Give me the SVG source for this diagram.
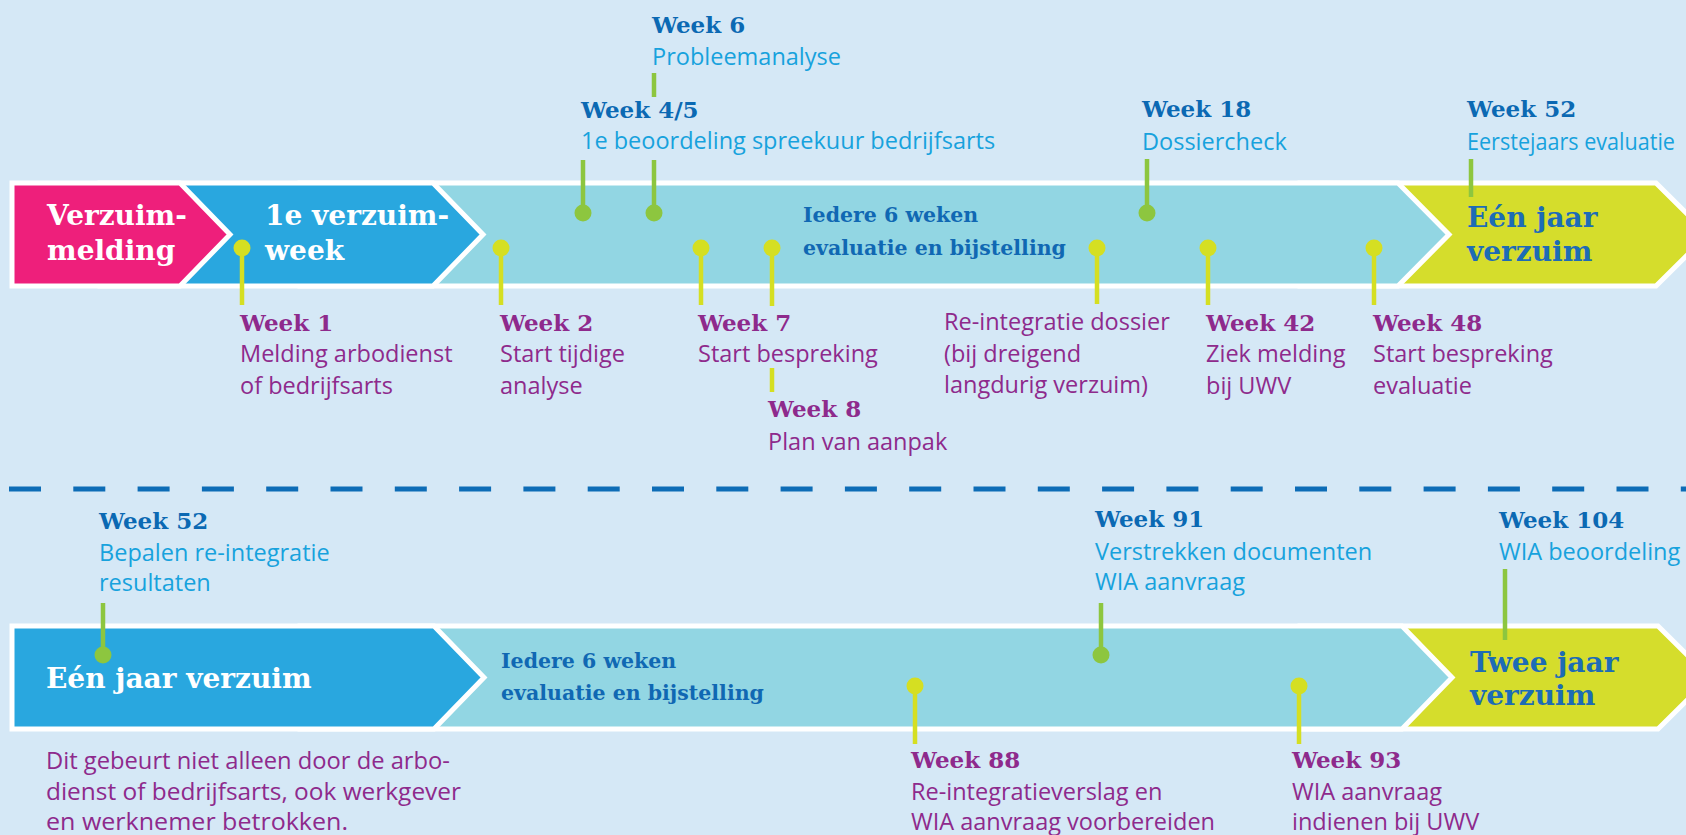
<svg xmlns="http://www.w3.org/2000/svg" width="1686" height="835" viewBox="0 0 1686 835">
<style>
.band{stroke:#fff;stroke-width:5;stroke-linejoin:miter}
.pink{fill:#ee1f7b}.blue{fill:#29a7df}.cyan{fill:#92d6e3}.lime{fill:#d5dd2c}
.big{font-family:"DejaVu Serif",serif;font-weight:bold;font-size:28px}
.wh{fill:#fff}.db{fill:#1d6cb6}
.mid{font-family:"DejaVu Serif",serif;font-weight:bold;font-size:20.5px;fill:#1068b3}
.wk{font-family:"DejaVu Serif",serif;font-weight:bold;font-size:23px}
.wkb{fill:#0b69b3}.wkp{fill:#8e2a8c}
.sub{font-family:"Open Sans",sans-serif;font-size:23.5px}
.note{font-family:"Open Sans",sans-serif;font-size:23.5px;fill:#8e2a8c}
.sb{fill:#17a2dd}.sp{fill:#8e2a8c}
.gs{stroke:#8dc63f;stroke-width:4.5}.gd{fill:#8dc63f}
.ys{stroke:#d5df22;stroke-width:4.5}.yd{fill:#d5df22}
</style>
<rect width="1686" height="835" fill="#d5e8f6"/>

<g id="connectors">
  <line x1="9" y1="489" x2="1686" y2="489" stroke="#0d6cb6" stroke-width="5" stroke-dasharray="32 32.3"/>
</g>

<g id="band-top">
  <polygon class="band lime" points="1300,183 1656,183 1708,234.5 1656,286 1300,286"/>
  <polygon class="band cyan" points="300,183 1398,183 1449,234.5 1398,286 300,286"/>
  <polygon class="band blue" points="100,183 433,183 483,234.5 433,286 100,286"/>
  <polygon class="band pink" points="12,183 180,183 230,234.5 180,286 12,286"/>
</g>
<g id="band-bottom">
  <polygon class="band lime" points="1300,626 1658,626 1710,677.5 1658,729 1300,729"/>
  <polygon class="band cyan" points="300,626 1402,626 1452,677.5 1402,729 300,729"/>
  <polygon class="band blue" points="12,626 434,626 484,677.5 434,729 12,729"/>
</g>

<g id="node-verzuimmelding"><text class="big wh" x="47" y="225">Verzuim-</text><text class="big wh" x="47" y="260">melding</text></g>
<g id="node-verzuimweek"><text class="big wh" x="265" y="225">1e verzuim-</text><text class="big wh" x="265" y="260">week</text></g>
<g id="node-iedere-top"><text class="mid" x="803" y="222">Iedere 6 weken</text><text class="mid" x="803" y="255">evaluatie en bijstelling</text></g>
<g id="node-eenjaar-top"><text class="big db" x="1467" y="227">Eén jaar</text><text class="big db" x="1467" y="261">verzuim</text></g>
<g id="node-eenjaar-bottom"><text class="big wh" x="46" y="688">Eén jaar verzuim</text></g>
<g id="node-iedere-bottom"><text class="mid" x="501" y="668">Iedere 6 weken</text><text class="mid" x="501" y="700">evaluatie en bijstelling</text></g>
<g id="node-tweejaar"><text class="big db" x="1470" y="672">Twee jaar</text><text class="big db" x="1470" y="705">verzuim</text></g>

<g id="m-week6">
  <line class="gs" x1="654" y1="73" x2="654" y2="97"/>
  <text class="wk wkb" x="652" y="33">Week 6</text>
  <text class="sub sb" x="652" y="65">Probleemanalyse</text>
</g>
<g id="m-week45">
  <line class="gs" x1="583" y1="160" x2="583" y2="212"/><circle class="gd" cx="583" cy="213" r="8.5"/>
  <line class="gs" x1="654" y1="160" x2="654" y2="212"/><circle class="gd" cx="654" cy="213" r="8.5"/>
  <text class="wk wkb" x="581" y="118">Week 4/5</text>
  <text class="sub sb" x="581" y="149">1e beoordeling spreekuur bedrijfsarts</text>
</g>
<g id="m-week18">
  <line class="gs" x1="1147" y1="159" x2="1147" y2="212"/><circle class="gd" cx="1147" cy="213" r="8.5"/>
  <text class="wk wkb" x="1142" y="117">Week 18</text>
  <text class="sub sb" x="1142" y="150">Dossiercheck</text>
</g>
<g id="m-week52-top">
  <line class="gs" x1="1471" y1="159" x2="1471" y2="197"/>
  <text class="wk wkb" x="1467" y="117">Week 52</text>
  <text class="sub sb" x="1467" y="150" textLength="208" lengthAdjust="spacingAndGlyphs">Eerstejaars evaluatie</text>
</g>

<g id="m-week1">
  <line class="ys" x1="242" y1="248" x2="242" y2="305"/><circle class="yd" cx="242" cy="248" r="8.5"/>
  <text class="wk wkp" x="240" y="331">Week 1</text>
  <text class="sub sp" x="240" y="362">Melding arbodienst</text>
  <text class="sub sp" x="240" y="394">of bedrijfsarts</text>
</g>
<g id="m-week2">
  <line class="ys" x1="501" y1="248" x2="501" y2="305"/><circle class="yd" cx="501" cy="248" r="8.5"/>
  <text class="wk wkp" x="500" y="331">Week 2</text>
  <text class="sub sp" x="500" y="362">Start tijdige</text>
  <text class="sub sp" x="500" y="394">analyse</text>
</g>
<g id="m-week7">
  <line class="ys" x1="701" y1="248" x2="701" y2="305"/><circle class="yd" cx="701" cy="248" r="8.5"/>
  <text class="wk wkp" x="698" y="331">Week 7</text>
  <text class="sub sp" x="698" y="362">Start bespreking</text>
</g>
<g id="m-week8">
  <line class="ys" x1="772" y1="248" x2="772" y2="306"/><circle class="yd" cx="772" cy="248" r="8.5"/>
  <line class="ys" x1="772" y1="368" x2="772" y2="392"/>
  <text class="wk wkp" x="768" y="417">Week 8</text>
  <text class="sub sp" x="768" y="450">Plan van aanpak</text>
</g>
<g id="m-reint">
  <line class="ys" x1="1097" y1="248" x2="1097" y2="304"/><circle class="yd" cx="1097" cy="248" r="8.5"/>
  <text class="sub sp" x="944" y="330">Re-integratie dossier</text>
  <text class="sub sp" x="944" y="362">(bij dreigend</text>
  <text class="sub sp" x="944" y="393">langdurig verzuim)</text>
</g>
<g id="m-week42">
  <line class="ys" x1="1208" y1="248" x2="1208" y2="305"/><circle class="yd" cx="1208" cy="248" r="8.5"/>
  <text class="wk wkp" x="1206" y="331">Week 42</text>
  <text class="sub sp" x="1206" y="362">Ziek melding</text>
  <text class="sub sp" x="1206" y="394">bij UWV</text>
</g>
<g id="m-week48">
  <line class="ys" x1="1374" y1="248" x2="1374" y2="305"/><circle class="yd" cx="1374" cy="248" r="8.5"/>
  <text class="wk wkp" x="1373" y="331">Week 48</text>
  <text class="sub sp" x="1373" y="362">Start bespreking</text>
  <text class="sub sp" x="1373" y="394">evaluatie</text>
</g>

<g id="m-week52-bottom">
  <line class="gs" x1="103" y1="603" x2="103" y2="654"/><circle class="gd" cx="103" cy="655" r="8.5"/>
  <text class="wk wkb" x="99" y="529">Week 52</text>
  <text class="sub sb" x="99" y="561">Bepalen re-integratie</text>
  <text class="sub sb" x="99" y="591">resultaten</text>
</g>
<g id="m-week91">
  <line class="gs" x1="1101" y1="603" x2="1101" y2="654"/><circle class="gd" cx="1101" cy="655" r="8.5"/>
  <text class="wk wkb" x="1095" y="527">Week 91</text>
  <text class="sub sb" x="1095" y="560">Verstrekken documenten</text>
  <text class="sub sb" x="1095" y="590">WIA aanvraag</text>
</g>
<g id="m-week104">
  <line class="gs" x1="1505" y1="569" x2="1505" y2="640"/>
  <text class="wk wkb" x="1499" y="528">Week 104</text>
  <text class="sub sb" x="1499" y="560">WIA beoordeling</text>
</g>
<g id="m-week88">
  <line class="ys" x1="915" y1="686" x2="915" y2="744"/><circle class="yd" cx="915" cy="686" r="8.5"/>
  <text class="wk wkp" x="911" y="768">Week 88</text>
  <text class="sub sp" x="911" y="800">Re-integratieverslag en</text>
  <text class="sub sp" x="911" y="830">WIA aanvraag voorbereiden</text>
</g>
<g id="m-week93">
  <line class="ys" x1="1299" y1="686" x2="1299" y2="744"/><circle class="yd" cx="1299" cy="686" r="8.5"/>
  <text class="wk wkp" x="1292" y="768">Week 93</text>
  <text class="sub sp" x="1292" y="800">WIA aanvraag</text>
  <text class="sub sp" x="1292" y="830">indienen bij UWV</text>
</g>
<g id="note">
  <text class="note" x="46" y="769" textLength="404" lengthAdjust="spacingAndGlyphs">Dit gebeurt niet alleen door de arbo-</text>
  <text class="note" x="46" y="800" textLength="415" lengthAdjust="spacingAndGlyphs">dienst of bedrijfsarts, ook werkgever</text>
  <text class="note" x="46" y="830" textLength="302" lengthAdjust="spacingAndGlyphs">en werknemer betrokken.</text>
</g>
</svg>
